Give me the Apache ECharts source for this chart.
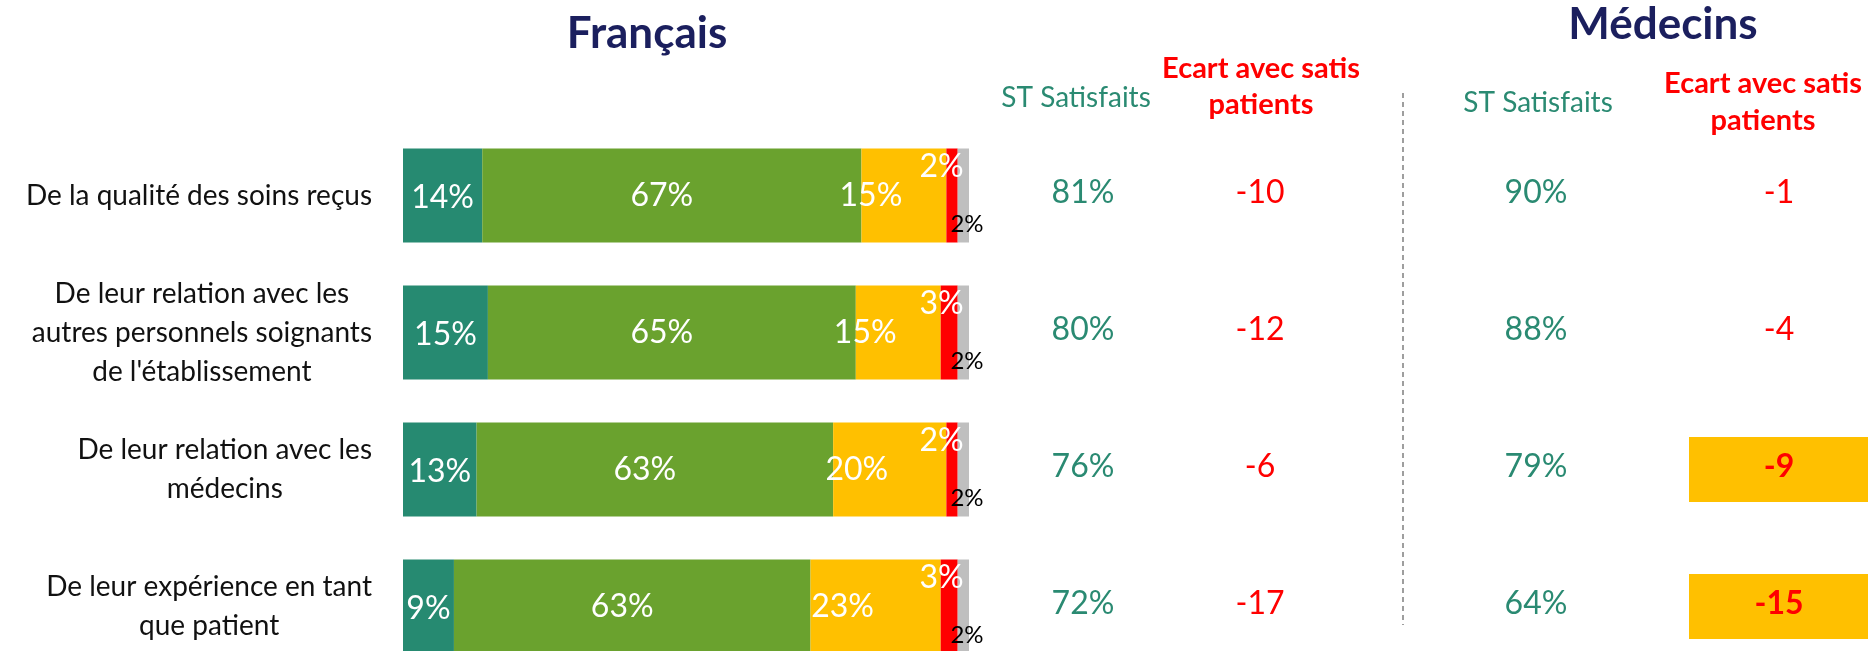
<!DOCTYPE html>
<html>
<head>
<meta charset="utf-8">
<script src="https://cdn.jsdelivr.net/npm/echarts@6/dist/echarts.min.js"></script>
<style>
  html, body { margin: 0; padding: 0; background: #fff; }
  #chart { width: 1868px; height: 651px; }
</style>
</head>
<body>
<div id="chart"></div>
<script>
// questions (une ligne par barre)
const categories = [
  "De la qualité des soins reçus",
  "De leur relation avec les\nautres personnels soignants\nde l'établissement",
  "De leur relation avec les\nmédecins",
  "De leur expérience en tant\nque patient"
]

// répartition des réponses, Français (%)
const tresSatisfaits = [14, 15, 13, 9]
const plutotSatisfaits = [67, 65, 63, 63]
const plutotPasSatisfaits = [15, 15, 20, 23]
const pasDuToutSatisfaits = [2, 3, 2, 3]
const nsp = [2, 2, 2, 2]

// tableau de droite
const stSatisfaitsFrancais = [81, 80, 76, 72]
const ecartFrancais = [-10, -12, -6, -17]
const stSatisfaitsMedecins = [90, 88, 79, 64]
const ecartMedecins = [-1, -4, -9, -15]
const seuilAlerte = -5

const FONT = 'Lato'
const TEAL = '#2A8A72'
const RED = '#FF0000'
const NAVY = '#1B1F5E'

// zone des barres
const gridTop = 127
const gridHeight = 548

const stackDefs = [
  { name: 'Très satisfaits', data: tresSatisfaits, color: '#268A71',
    label: { position: 'inside', offset: [0, 2] } },
  { name: 'Plutôt satisfaits', data: plutotSatisfaits, color: '#6AA22E',
    label: { position: 'inside', offset: [-10, 0] } },
  { name: 'Plutôt pas satisfaits', data: plutotPasSatisfaits, color: '#FFC000',
    label: { position: 'inside', offset: [-33, 0] } },
  { name: 'Pas du tout satisfaits', data: pasDuToutSatisfaits, color: '#FF0000',
    label: { position: ['100%', 18], align: 'right', verticalAlign: 'middle', offset: [6, 0] } },
  { name: 'NSP', data: nsp, color: '#BFBFBF',
    label: { position: ['100%', 76], align: 'center', verticalAlign: 'middle', offset: [-2, 0], color: '#000', fontSize: 24 } }
]

// colonnes du tableau (centre en px)
const tableColumns = [
  { values: stSatisfaitsFrancais, suffix: '%', color: TEAL, center: 1083 },
  { values: ecartFrancais, suffix: '', color: RED, center: 1260 },
  { values: stSatisfaitsMedecins, suffix: '%', color: TEAL, center: 1536 },
  { values: ecartMedecins, suffix: '', color: RED, center: 1779, alerte: true }
]

const chart = echarts.init(document.getElementById('chart'))

const grids = [{ left: 403, width: 566, top: gridTop, height: gridHeight, outerBoundsMode: 'none' }]
const xAxes = [{ type: 'value', min: 0, max: 100, show: false, gridIndex: 0 }]
const yAxes = [{
  type: 'category', data: categories, inverse: true, gridIndex: 0,
  axisLine: { show: false }, axisTick: { show: false }, splitLine: { show: false },
  axisLabel: {
    margin: 31,
    formatter: v => v.split('\n').map(l => '{c|' + l + '}').join('\n'),
    rich: { c: { align: 'center', fontFamily: FONT, fontSize: 28, lineHeight: 39, color: '#111' } }
  }
}]

const series = stackDefs.map(d => ({
  name: d.name,
  type: 'bar',
  stack: 'fr',
  barWidth: 94,
  xAxisIndex: 0,
  yAxisIndex: 0,
  data: d.data,
  itemStyle: { color: d.color },
  label: Object.assign({
    show: true, formatter: '{c}%', color: '#fff', fontFamily: FONT, fontSize: 32
  }, d.label)
}))

tableColumns.forEach((col, k) => {
  const gi = k + 1
  grids.push({ left: col.center - 100, width: 200, top: gridTop, height: gridHeight, outerBoundsMode: 'none' })
  xAxes.push({ type: 'category', data: ['v'], show: false, gridIndex: gi })
  yAxes.push({ type: 'category', data: categories, inverse: true, show: false, gridIndex: gi })
  series.push({
    type: 'scatter',
    xAxisIndex: gi,
    yAxisIndex: gi,
    symbol: 'rect',
    symbolSize: [180, 65],
    silent: true,
    data: col.values.map((v, i) => {
      const hot = col.alerte && v <= seuilAlerte
      return {
        value: [0, i],
        itemStyle: { color: hot ? '#FFC000' : 'rgba(0,0,0,0)', opacity: 1 },
        label: { fontWeight: hot ? 'bold' : 'normal' }
      }
    }),
    label: {
      show: true,
      position: 'inside',
      offset: [0, -3],
      color: col.color,
      fontFamily: FONT,
      fontSize: 32,
      formatter: p => col.values[p.dataIndex] + col.suffix
    }
  })
})

const txt = (text, x, y, size, color, weight, lh) => ({
  type: 'text', x, y, silent: true,
  style: {
    text, fill: color, fontFamily: FONT, fontSize: size, fontWeight: weight || 'normal',
    lineHeight: lh || size * 1.2,
    align: 'center', verticalAlign: 'middle', textAlign: 'center', textVerticalAlign: 'middle'
  }
})

chart.setOption({
  animation: false,
  backgroundColor: '#fff',
  grid: grids,
  xAxis: xAxes,
  yAxis: yAxes,
  series,
  graphic: [
    txt('Français', 647, 34, 44, NAVY, 'bold'),
    txt('Médecins', 1663, 25, 44, NAVY, 'bold'),
    txt('ST Satisfaits', 1076, 98, 28, TEAL),
    txt('Ecart avec satis\npatients', 1261, 87, 29, RED, 'bold', 36),
    txt('ST Satisfaits', 1538, 103, 28, TEAL),
    txt('Ecart avec satis\npatients', 1763, 102, 29, RED, 'bold', 37),
    {
      type: 'line', silent: true,
      shape: { x1: 1403, y1: 93, x2: 1403, y2: 625 },
      style: { stroke: '#7F7F7F', lineWidth: 1.5, lineDash: [5, 4] }
    }
  ]
})
</script>
</body>
</html>
